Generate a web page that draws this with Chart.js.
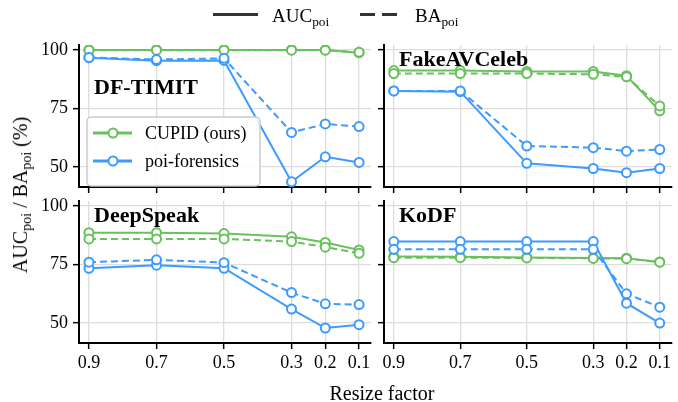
<!DOCTYPE html>
<html>
<head>
<meta charset="utf-8">
<script src="https://cdn.jsdelivr.net/npm/chart.js"></script>
<style>
  body { margin: 0; background: #fff; }
  #wrap { position: relative; width: 678px; height: 402px; overflow: hidden; font-family: "Liberation Serif", serif; color: #000; }
  canvas { position: absolute; left: 0; top: 0; }
  .lbl { position: absolute; white-space: nowrap; line-height: 1; }
  .lbl sub { font-size: 70%; vertical-align: baseline; position: relative; top: 0.3em; }
</style>
</head>
<body>
<div id="wrap">
  <canvas id="c0" width="678" height="402"></canvas>
  <canvas id="c1" width="678" height="402"></canvas>
  <canvas id="c2" width="678" height="402"></canvas>
  <canvas id="c3" width="678" height="402"></canvas>

  <div class="lbl" style="left:213px;top:13px;width:45px;height:3px;background:#333;"></div>
  <div class="lbl" style="left:272px;top:6px;font-size:19px;">AUC<sub>poi</sub></div>
  <div class="lbl" style="left:360px;top:13px;width:37px;height:3px;background:repeating-linear-gradient(to right,#333 0 15px,transparent 15px 22px);"></div>
  <div class="lbl" style="left:415px;top:6px;font-size:19px;">BA<sub>poi</sub></div>

  <div class="lbl" style="left:20px;top:195px;font-size:20px;transform:translate(-50%,-50%) rotate(-90deg);">AUC<sub>poi</sub> / BA<sub>poi</sub> (%)</div>
  <div class="lbl" style="left:382px;top:393px;font-size:20px;transform:translate(-50%,-50%);">Resize factor</div>
</div>

<script>
// x values and ticks
const resizeFactors = [0.9, 0.7, 0.5, 0.3, 0.2, 0.1];
const xTicks = [0.9, 0.7, 0.5, 0.3, 0.2, 0.1];
const yTicks = [50, 75, 100];

const panelNames = ['DF-TIMIT', 'FakeAVCeleb', 'DeepSpeak', 'KoDF'];
const methodNames = ['CUPID (ours)', 'poi-forensics'];

// DF-TIMIT
const dfTimitCupidAuc = [100, 100, 100, 100, 100, 98.8];
const dfTimitCupidBa  = [99.9, 99.9, 99.9, 99.9, 99.9, 99.0];
const dfTimitPoiAuc   = [96.7, 95.4, 95.5, 43.7, 54.4, 52.0];
const dfTimitPoiBa    = [96.8, 95.9, 96.4, 64.8, 68.4, 67.3];

// FakeAVCeleb
const favcCupidAuc = [91.2, 91.2, 90.8, 90.8, 89.0, 74.0];
const favcCupidBa  = [89.9, 89.9, 89.9, 89.6, 88.5, 76.1];
const favcPoiAuc   = [82.5, 82.2, 51.6, 49.4, 47.6, 49.4];
const favcPoiBa    = [82.5, 82.5, 59.0, 58.3, 56.8, 57.5];

// DeepSpeak
const deepSpeakCupidAuc = [88.6, 88.6, 88.2, 86.8, 84.4, 81.2];
const deepSpeakCupidBa  = [85.9, 85.9, 85.9, 84.8, 82.4, 79.8];
const deepSpeakPoiAuc   = [73.4, 74.7, 73.4, 56.0, 47.9, 49.3];
const deepSpeakPoiBa    = [76.0, 77.0, 75.8, 63.0, 58.2, 57.9];

// KoDF
const kodfCupidAuc = [78.4, 78.3, 78.0, 77.8, 77.7, 76.1];
const kodfCupidBa  = [77.9, 77.9, 77.8, 77.6, 77.5, 76.0];
const kodfPoiAuc   = [84.8, 84.8, 84.8, 84.8, 58.5, 50.0];
const kodfPoiBa    = [81.5, 81.5, 81.5, 81.5, 62.5, 56.8];

const GREEN = '#6abf5e';
const BLUE = '#3d9bff';
const FONT = '"Liberation Serif", serif';

function pts(ys) {
    return resizeFactors.map((x, i) => ({ x: x, y: ys[i] }));
}

function line(ys, color, dashed, order) {
    return {
        data: pts(ys),
        borderColor: color,
        backgroundColor: '#fff',
        borderWidth: 2,
        borderDash: dashed ? [7, 4] : [],
        pointRadius: 4.5,
        pointBorderWidth: 2,
        pointBackgroundColor: '#fff',
        pointBorderColor: color,
        tension: 0,
        order: order
    };
}

const panelText = {
    id: 'panelText',
    afterDraw(chart, args, opts) {
        const ctx = chart.ctx;
        const a = chart.chartArea;
        ctx.save();
        ctx.fillStyle = '#000';
        ctx.font = 'bold 22px ' + FONT;
        ctx.textBaseline = 'middle';
        ctx.fillText(opts.name, a.left + 15, a.top + opts.titleDy);

        if (opts.legend) {
            const bx = a.left + 8, by = a.top + 72, bw = 173, bh = 69;
            ctx.beginPath();
            ctx.roundRect(bx, by, bw, bh, 4);
            ctx.fillStyle = 'rgba(255,255,255,0.85)';
            ctx.fill();
            ctx.strokeStyle = '#cccccc';
            ctx.lineWidth = 1.5;
            ctx.stroke();
            [GREEN, BLUE].forEach((c, i) => {
                const yy = by + 16 + i * 28;
                ctx.beginPath();
                ctx.moveTo(bx + 6, yy);
                ctx.lineTo(bx + 45, yy);
                ctx.strokeStyle = c;
                ctx.lineWidth = 3;
                ctx.stroke();
                ctx.beginPath();
                ctx.arc(bx + 26, yy, 4.5, 0, Math.PI * 2);
                ctx.fillStyle = '#fff';
                ctx.fill();
                ctx.lineWidth = 2;
                ctx.stroke();
                ctx.fillStyle = '#000';
                ctx.font = '18px ' + FONT;
                ctx.fillText(methodNames[i], bx + 58, yy + 1);
            });
        }
        ctx.restore();
    }
};

function makePanel(id, name, series, box, showX, showY, titleDy, legend) {
    const yW = 40, xH = 40;
    new Chart(document.getElementById(id), {
        type: 'line',
        data: {
            datasets: [
                line(series[0], GREEN, false, 4),
                line(series[1], GREEN, true, 3),
                line(series[2], BLUE, false, 2),
                line(series[3], BLUE, true, 1)
            ]
        },
        options: {
            responsive: false,
            animation: false,
            events: [],
            layout: {
                padding: { left: box.l - yW, top: box.t, right: 678 - box.r, bottom: 402 - box.b - xH }
            },
            plugins: {
                legend: { display: false },
                tooltip: { enabled: false },
                panelText: { name: name, titleDy: titleDy, legend: legend }
            },
            scales: {
                x: {
                    type: 'linear',
                    reverse: true,
                    min: 0.0646,
                    max: 0.9295,
                    afterBuildTicks: s => { s.ticks = xTicks.map(v => ({ value: v })); },
                    afterFit: s => { s.height = xH; },
                    ticks: {
                        display: showX,
                        autoSkip: false,
                        maxRotation: 0,
                        padding: 3,
                        color: '#000',
                        font: { family: FONT, size: 18 },
                        callback: v => v.toFixed(1)
                    },
                    grid: { color: '#dddddd', lineWidth: 1.3, tickColor: '#000', tickLength: 6, tickWidth: 1.5 },
                    border: { color: '#000', width: 2 }
                },
                y: {
                    min: 41.5,
                    max: 102.1,
                    afterBuildTicks: s => { s.ticks = yTicks.map(v => ({ value: v })); },
                    afterFit: s => { s.width = yW; },
                    ticks: {
                        display: showY,
                        padding: 5,
                        color: '#000',
                        font: { family: FONT, size: 18 }
                    },
                    grid: { color: '#dddddd', lineWidth: 1.3, tickColor: '#000', tickLength: 6, tickWidth: 1.5 },
                    border: { color: '#000', width: 2 }
                }
            }
        },
        plugins: [panelText]
    });
}

makePanel('c0', panelNames[0], [dfTimitCupidAuc, dfTimitCupidBa, dfTimitPoiAuc, dfTimitPoiBa],
    { l: 79, r: 371, t: 45, b: 187 }, false, true, 43, true);
makePanel('c1', panelNames[1], [favcCupidAuc, favcCupidBa, favcPoiAuc, favcPoiBa],
    { l: 384, r: 676, t: 45, b: 187 }, false, false, 15, false);
makePanel('c2', panelNames[2], [deepSpeakCupidAuc, deepSpeakCupidBa, deepSpeakPoiAuc, deepSpeakPoiBa],
    { l: 79, r: 371, t: 201, b: 343 }, true, true, 15, false);
makePanel('c3', panelNames[3], [kodfCupidAuc, kodfCupidBa, kodfPoiAuc, kodfPoiBa],
    { l: 384, r: 676, t: 201, b: 343 }, true, false, 15, false);
</script>
</body>
</html>
